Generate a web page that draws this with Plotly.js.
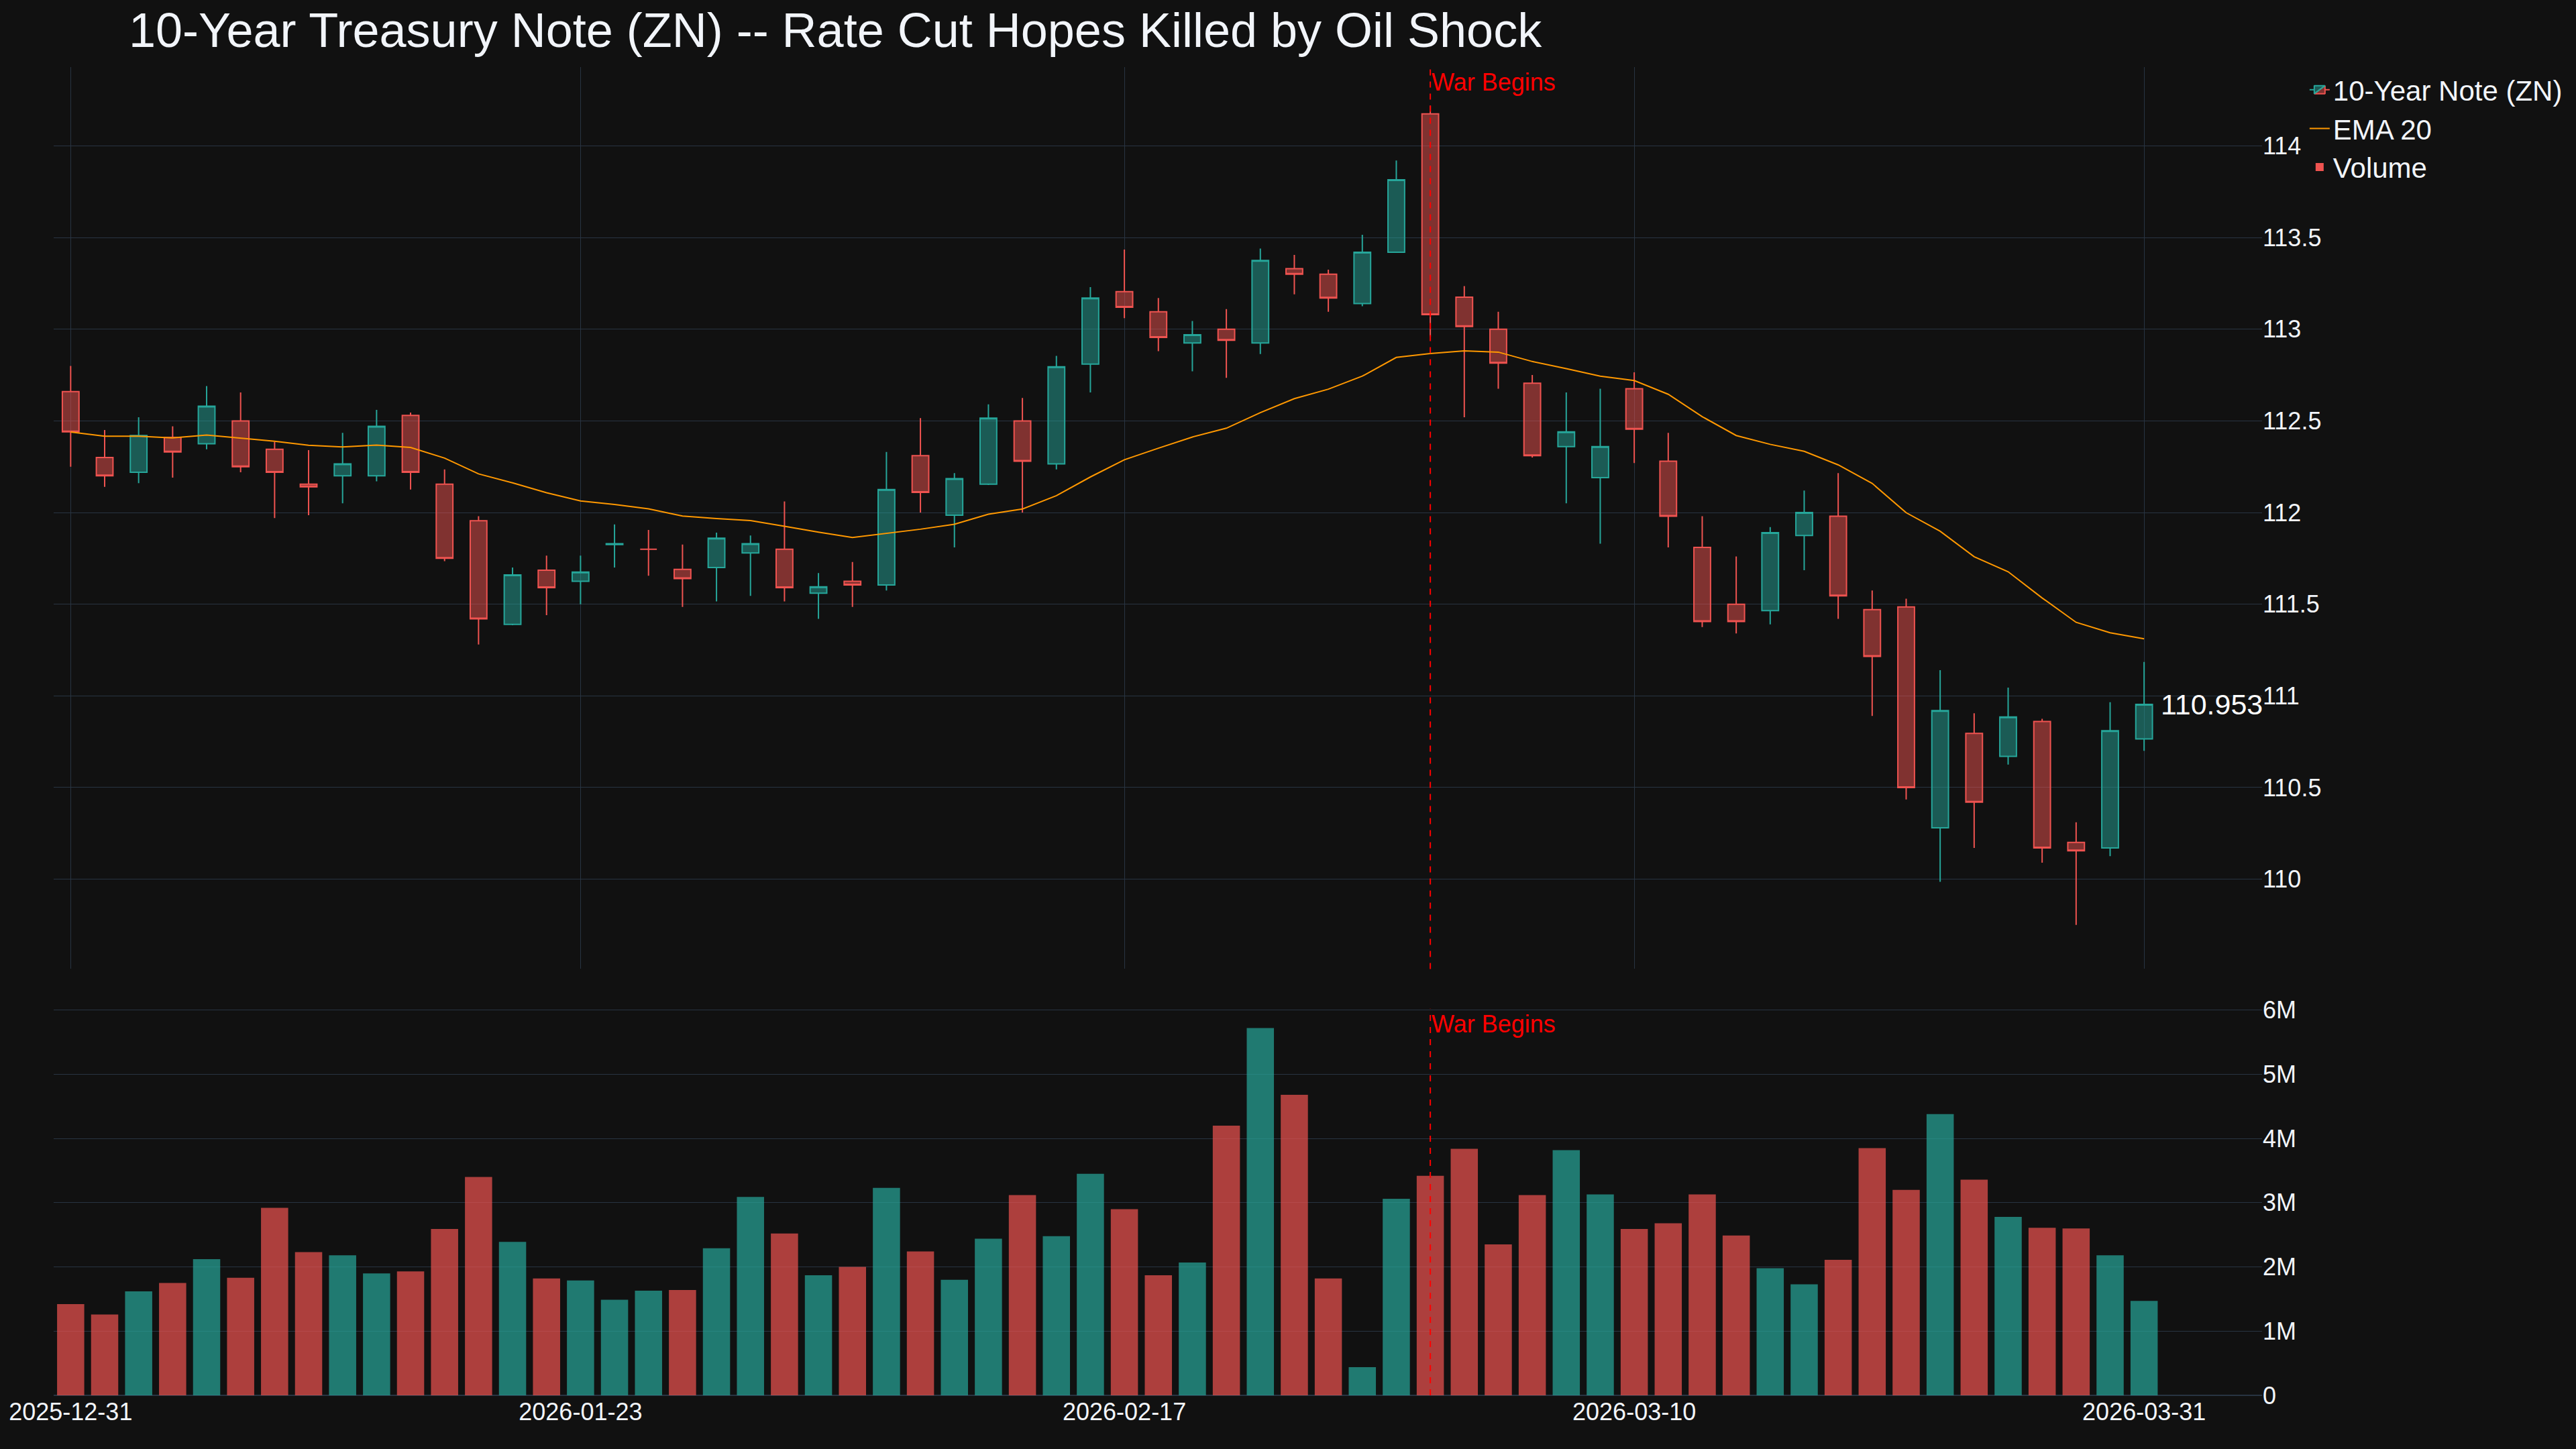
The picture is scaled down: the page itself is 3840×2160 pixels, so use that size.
<!DOCTYPE html>
<html>
<head>
<meta charset="utf-8">
<script src="https://cdn.plot.ly/plotly-3.0.1.min.js"></script>
<style>
  body { margin: 0; background: #111111; }
  #chart { width: 3840px; height: 2160px; }
</style>
</head>
<body>
<div id="chart"></div>
<script>
// trading days shown on the chart
var dates = [
  '2025-12-31',
  '2026-01-02', '2026-01-05', '2026-01-06', '2026-01-07', '2026-01-08', '2026-01-09',
  '2026-01-12', '2026-01-13', '2026-01-14', '2026-01-15', '2026-01-16',
  '2026-01-20', '2026-01-21', '2026-01-22', '2026-01-23',
  '2026-01-26', '2026-01-27', '2026-01-28', '2026-01-29', '2026-01-30',
  '2026-02-02', '2026-02-03', '2026-02-04', '2026-02-05', '2026-02-06',
  '2026-02-09', '2026-02-10', '2026-02-11', '2026-02-12', '2026-02-13',
  '2026-02-17', '2026-02-18', '2026-02-19', '2026-02-20',
  '2026-02-23', '2026-02-24', '2026-02-25', '2026-02-26', '2026-02-27',
  '2026-03-02', '2026-03-03', '2026-03-04', '2026-03-05', '2026-03-06',
  '2026-03-09', '2026-03-10', '2026-03-11', '2026-03-12', '2026-03-13',
  '2026-03-16', '2026-03-17', '2026-03-18', '2026-03-19', '2026-03-20',
  '2026-03-23', '2026-03-24', '2026-03-25', '2026-03-26', '2026-03-27',
  '2026-03-30', '2026-03-31'
];

var open = [
  112.66, 112.30, 112.22, 112.41, 112.375, 112.50, 112.345, 112.155, 112.20, 112.20,
  112.53, 112.155, 111.955, 111.39, 111.685, 111.625, 111.825, 111.80, 111.69, 111.70,
  111.78, 111.80, 111.56, 111.625, 111.605, 112.31, 111.985, 112.155, 112.50, 112.265,
  112.81, 113.205, 113.095, 112.925, 113.00, 112.925, 113.33, 113.30, 113.14, 113.42,
  114.175, 113.175, 113.00, 112.705, 112.36, 112.19, 112.675, 112.28, 111.81, 111.50,
  111.465, 111.875, 111.98, 111.47, 111.485, 110.28, 110.795, 110.67, 110.86, 110.20,
  110.17, 110.765
];
var high = [
  112.80, 112.45, 112.52, 112.47, 112.69, 112.655, 112.385, 112.34, 112.435, 112.56,
  112.545, 112.235, 111.98, 111.70, 111.765, 111.765, 111.935, 111.905, 111.825, 111.89,
  111.875, 112.06, 111.67, 111.73, 112.33, 112.515, 112.215, 112.59, 112.625, 112.855,
  113.23, 113.435, 113.17, 113.045, 113.11, 113.44, 113.405, 113.325, 113.515, 113.92,
  114.22, 113.235, 113.095, 112.75, 112.655, 112.675, 112.765, 112.435, 111.98, 111.76,
  111.92, 112.12, 112.215, 111.575, 111.53, 111.14, 110.905, 111.045, 110.875, 110.31,
  110.965, 111.185
];
var low = [
  112.25, 112.14, 112.16, 112.19, 112.345, 112.22, 111.97, 111.985, 112.05, 112.17,
  112.125, 111.735, 111.28, 111.385, 111.44, 111.50, 111.70, 111.655, 111.485, 111.515,
  111.545, 111.515, 111.42, 111.485, 111.575, 112.00, 111.81, 112.15, 112.00, 112.235,
  112.655, 113.06, 112.88, 112.77, 112.735, 112.865, 113.19, 113.095, 113.125, 113.42,
  112.96, 112.52, 112.675, 112.30, 112.05, 111.83, 112.27, 111.81, 111.375, 111.34,
  111.39, 111.685, 111.42, 110.89, 110.435, 109.985, 110.17, 110.625, 110.09, 109.75,
  110.125, 110.70
];
var close = [
  112.44, 112.20, 112.42, 112.33, 112.58, 112.25, 112.22, 112.14, 112.265, 112.47,
  112.22, 111.75, 111.42, 111.66, 111.59, 111.675, 111.83, 111.80, 111.64, 111.86,
  111.83, 111.59, 111.595, 111.605, 112.125, 112.11, 112.185, 112.515, 112.28, 112.795,
  113.17, 113.12, 112.955, 112.97, 112.94, 113.375, 113.30, 113.17, 113.42, 113.815,
  113.08, 113.015, 112.815, 112.31, 112.44, 112.36, 112.455, 111.98, 111.405, 111.405,
  111.89, 112.00, 111.545, 111.215, 110.50, 110.92, 110.42, 110.885, 110.17, 110.155,
  110.81, 110.953
];

// EMA 20 line as drawn on the chart
var ema20 = [
  112.439, 112.416, 112.416, 112.407, 112.423, 112.407, 112.389, 112.367, 112.358, 112.368,
  112.355, 112.297, 112.211, 112.162, 112.108, 112.063, 112.044, 112.020, 111.981, 111.967,
  111.956, 111.925, 111.893, 111.864, 111.886, 111.909, 111.936, 111.991, 112.019, 112.092,
  112.194, 112.288, 112.351, 112.412, 112.460, 112.545, 112.621, 112.673, 112.744, 112.846,
  112.867, 112.882, 112.875, 112.824, 112.785, 112.744, 112.720, 112.645, 112.523, 112.420,
  112.372, 112.334, 112.260, 112.159, 111.999, 111.898, 111.759, 111.677, 111.534, 111.401,
  111.344, 111.311
];

var volume = [
  1420000, 1260000, 1620000, 1750000, 2120000, 1830000, 2920000, 2230000, 2180000, 1900000,
  1930000, 2590000, 3400000, 2390000, 1820000, 1790000, 1490000, 1630000, 1640000, 2290000,
  3090000, 2520000, 1870000, 2000000, 3230000, 2240000, 1800000, 2440000, 3120000, 2480000,
  3450000, 2900000, 1870000, 2070000, 4200000, 5720000, 4680000, 1820000, 440000, 3060000,
  3420000, 3840000, 2350000, 3120000, 3820000, 3130000, 2590000, 2680000, 3130000, 2490000,
  1980000, 1730000, 2110000, 3850000, 3200000, 4380000, 3360000, 2780000, 2610000, 2600000,
  2180000, 1470000
];

var tickDates = ['2025-12-31', '2026-01-23', '2026-02-17', '2026-03-10', '2026-03-31'];
var warDate = '2026-03-02';
var warLabel = 'War Begins';

var up = '#26a69a';
var down = '#ef5350';
var grid = '#283442';
var textColor = '#f2f5fa';

var volColors = [];
for (var i = 0; i < dates.length; i++) {
  volColors.push(close[i] >= open[i] ? up : down);
}
var last = dates.length - 1;

var candles = {
  type: 'candlestick',
  name: '10-Year Note (ZN)',
  x: dates, open: open, high: high, low: low, close: close,
  increasing: { line: { color: up, width: 2 } },
  decreasing: { line: { color: down, width: 2 } },
  xaxis: 'x', yaxis: 'y'
};

var ema = {
  type: 'scatter', mode: 'lines',
  name: 'EMA 20',
  x: dates, y: ema20,
  line: { color: '#ff9800', width: 2 },
  xaxis: 'x', yaxis: 'y'
};

var vol = {
  type: 'bar',
  name: 'Volume',
  x: dates, y: volume,
  marker: { color: volColors, opacity: 0.7 },
  xaxis: 'x2', yaxis: 'y2'
};

var axisFont = { size: 36, color: textColor };

var layout = {
  width: 3840, height: 2160,
  paper_bgcolor: '#111111', plot_bgcolor: '#111111',
  font: { family: 'Liberation Sans, Arial, sans-serif', color: textColor, size: 36 },
  margin: { l: 80, r: 468, t: 100, b: 80 },
  title: {
    text: '10-Year Treasury Note (ZN) -- Rate Cut Hopes Killed by Oil Shock',
    font: { size: 72, color: textColor },
    x: 0.05, xref: 'container', xanchor: 'left',
    y: 1 - 70 / 2160, yref: 'container', yanchor: 'bottom'
  },
  showlegend: true,
  legend: { font: { size: 42, color: textColor }, bgcolor: 'rgba(0,0,0,0)', x: 1.02, y: 1 },
  xaxis: {
    type: 'category', domain: [0, 1], anchor: 'y',
    range: [-0.5, 64.47],
    tickmode: 'array', tickvals: tickDates,
    showticklabels: false, showgrid: true, gridcolor: grid,
    rangeslider: { visible: false }
  },
  xaxis2: {
    type: 'category', domain: [0, 1], anchor: 'y2', matches: 'x',
    range: [-0.5, 64.47],
    tickmode: 'array', tickvals: tickDates,
    showgrid: false, tickfont: axisFont
  },
  yaxis: {
    domain: [0.321, 1], anchor: 'x', side: 'right',
    range: [109.51, 114.43],
    gridcolor: grid, zerolinecolor: grid, tickfont: axisFont
  },
  yaxis2: {
    domain: [0, 0.291], anchor: 'x2', side: 'right',
    range: [0, 6020000],
    gridcolor: grid, zerolinecolor: grid, zerolinewidth: 2, tickfont: axisFont
  },
  shapes: [
    { type: 'line', xref: 'x', yref: 'y domain', x0: warDate, x1: warDate, y0: 0, y1: 1,
      line: { color: 'red', width: 2, dash: 'dash' } },
    { type: 'line', xref: 'x2', yref: 'y2 domain', x0: warDate, x1: warDate, y0: 0, y1: 1,
      line: { color: 'red', width: 2, dash: 'dash' } }
  ],
  annotations: [
    { xref: 'x', yref: 'y domain', x: warDate, y: 1, xanchor: 'left', yanchor: 'top',
      text: warLabel, showarrow: false, font: { size: 36, color: 'red' } },
    { xref: 'x2', yref: 'y2 domain', x: warDate, y: 1, xanchor: 'left', yanchor: 'top',
      text: warLabel, showarrow: false, font: { size: 36, color: 'red' } },
    // last price tag next to the final candle
    { xref: 'x', yref: 'y', x: dates[last], y: close[last], xanchor: 'left', yanchor: 'middle',
      xshift: 23, text: close[last].toFixed(3), showarrow: false,
      font: { size: 43, color: '#ffffff' } }
  ]
};

Plotly.newPlot('chart', [candles, ema, vol], layout, { displayModeBar: false, responsive: false });
</script>
</body>
</html>
